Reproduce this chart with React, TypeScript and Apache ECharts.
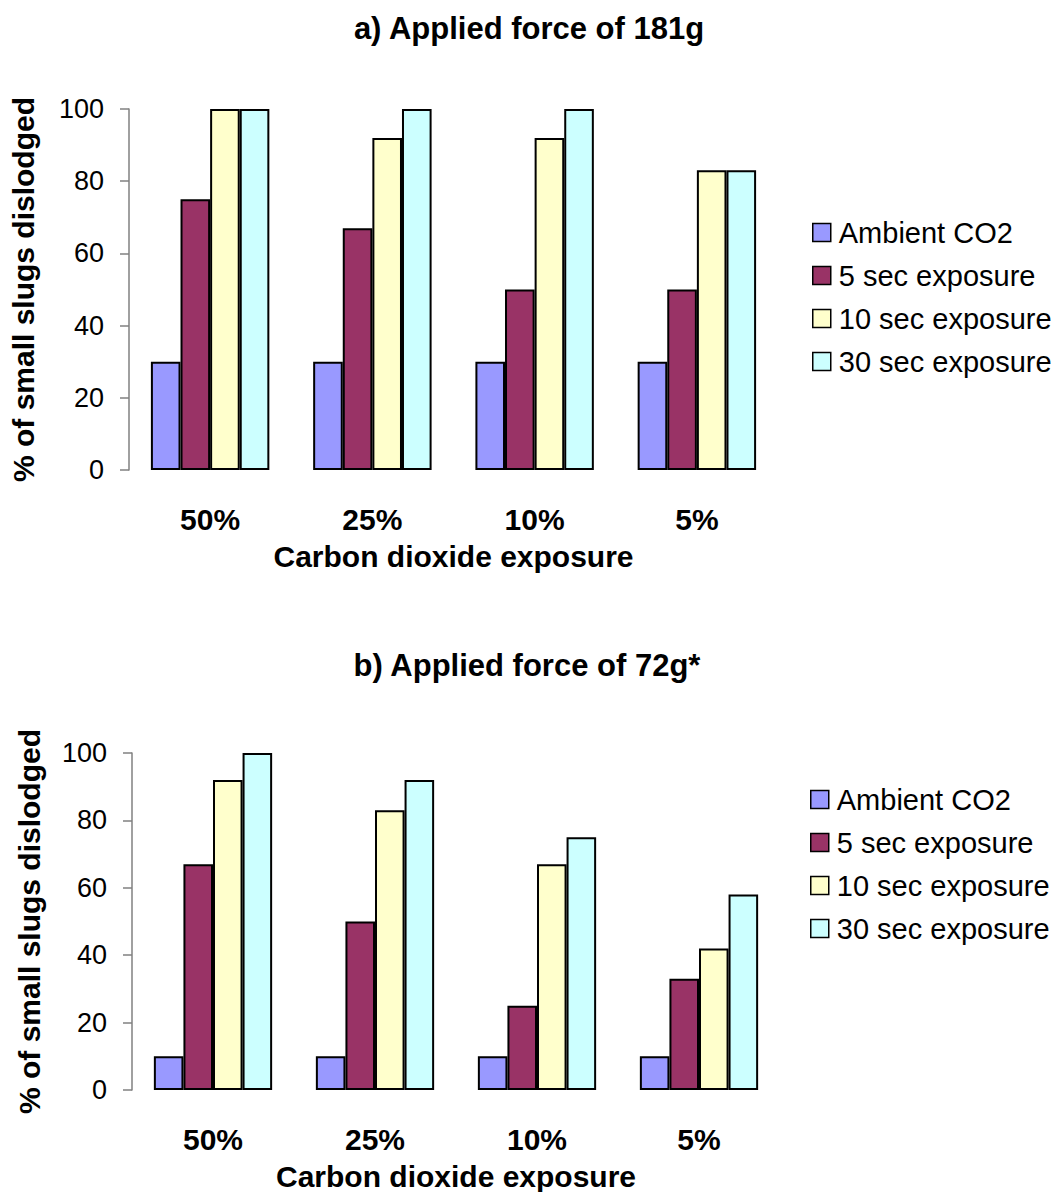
import React, { useEffect, useRef } from "react";
import * as echarts from "echarts";

const categories = ["50%", "25%", "10%", "5%"];
const seriesNames = ["Ambient CO2", "5 sec exposure", "10 sec exposure", "30 sec exposure"];
const colors = ["#9999FF", "#993366", "#FFFFCC", "#CCFFFF"];

// a) Applied force of 181g
const topAmbient = [30, 30, 30, 30];
const top5sec = [75, 67, 50, 50];
const top10sec = [100, 92, 92, 83];
const top30sec = [100, 100, 100, 83];

// b) Applied force of 72g*
const botAmbient = [10, 10, 10, 10];
const bot5sec = [67, 50, 25, 33];
const bot10sec = [92, 83, 67, 42];
const bot30sec = [100, 92, 75, 58];

const yTicks = { min: 0, max: 100, interval: 20 };

const FONT = "Arial, 'Liberation Sans', sans-serif";

export default function App() {
  const ref = useRef<HTMLDivElement>(null);
  useEffect(() => {
    if (!ref.current) return;
    const chart = echarts.init(ref.current, null, { renderer: "svg" });
    const topData = [topAmbient, top5sec, top10sec, top30sec];
    const botData = [botAmbient, bot5sec, bot10sec, bot30sec];

    const mkX = (gi: number) => ({
      type: "category",
      gridIndex: gi,
      data: categories,
      axisLine: { show: false },
      axisTick: { show: false },
      axisLabel: { fontFamily: FONT, fontSize: 30, fontWeight: "bold", color: "#000", margin: 34 },
      name: "Carbon dioxide exposure",
      nameLocation: "middle",
      nameGap: 71,
      nameTextStyle: { fontFamily: FONT, fontSize: 30, fontWeight: "bold", color: "#000" },
    });
    const mkY = (gi: number) => ({
      type: "value",
      gridIndex: gi,
      min: yTicks.min,
      max: yTicks.max,
      interval: yTicks.interval,
      axisLine: { show: true, lineStyle: { color: "#808080", width: 1.5 } },
      axisTick: { show: true, length: 9, lineStyle: { color: "#808080", width: 1.5 } },
      splitLine: { show: false },
      axisLabel: { fontFamily: FONT, fontSize: 27, color: "#000", margin: 25 },
      name: "% of small slugs dislodged",
      nameLocation: "middle",
      nameGap: gi === 0 ? 91 : 88,
      nameTextStyle: { fontFamily: FONT, fontSize: 30, fontWeight: "bold", color: "#000" },
    });

    const series: any[] = [];
    [topData, botData].forEach((ds, gi) => {
      ds.forEach((d, si) => {
        series.push({
          type: "bar",
          name: seriesNames[si],
          xAxisIndex: gi,
          yAxisIndex: gi,
          data: d,
          barGap: "0%",
          barCategoryGap: "27%",
          itemStyle: { color: colors[si], borderColor: "#000", borderWidth: 2 },
        });
      });
    });

    const mkLegend = (top: number, left: number) => ({
      top,
      left,
      orient: "vertical",
      data: seriesNames,
      icon: "rect",
      itemWidth: 18,
      itemHeight: 18,
      itemGap: 14,
      selectedMode: false,
      itemStyle: { borderColor: "#000", borderWidth: 1.5 },
      textStyle: { fontFamily: FONT, fontSize: 29, color: "#000", padding: [0, 0, 0, 3] },
    });

    chart.setOption({
      animation: false,
      backgroundColor: "#fff",
      title: [
        {
          text: "a) Applied force of 181g",
          left: 524,
          top: 8,
          textAlign: "center",
          textStyle: { fontFamily: FONT, fontSize: 31, fontWeight: "bold", color: "#000" },
        },
        {
          text: "b) Applied force of 72g*",
          left: 522,
          top: 645,
          textAlign: "center",
          textStyle: { fontFamily: FONT, fontSize: 31, fontWeight: "bold", color: "#000" },
        },
      ],
      legend: [mkLegend(213, 807), mkLegend(780, 805)],
      grid: [
        { left: 129, top: 109, width: 649, height: 361, containLabel: false },
        { left: 132, top: 753, width: 648, height: 337, containLabel: false },
      ],
      xAxis: [mkX(0), mkX(1)],
      yAxis: [mkY(0), mkY(1)],
      series,
    });
    return () => chart.dispose();
  }, []);
  return (
    <div
      ref={ref}
      style={{ position: "fixed", left: 0, top: 0, width: 1057, height: 1192, background: "#fff" }}
    />
  );
}
